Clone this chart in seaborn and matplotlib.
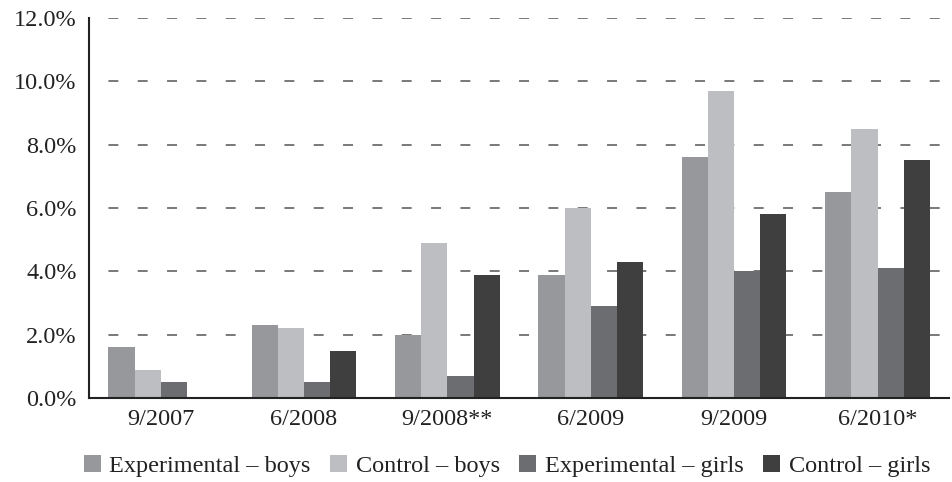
import pandas as pd
import matplotlib.pyplot as plt
import seaborn as sns
from matplotlib.ticker import FuncFormatter, FixedLocator

# Data (percent)
periods = ["9/2007", "6/2008", "9/2008**", "6/2009", "9/2009", "6/2010*"]
groups = ["Experimental – boys", "Control – boys", "Experimental – girls", "Control – girls"]
exp_boys = [1.6, 2.3, 2.0, 3.9, 7.6, 6.5]
ctrl_boys = [0.9, 2.2, 4.9, 6.0, 9.7, 8.5]
exp_girls = [0.5, 0.5, 0.7, 2.9, 4.0, 4.1]
ctrl_girls = [0.0, 1.5, 3.9, 4.3, 5.8, 7.5]
colours = ["#97989c", "#bdbec2", "#6c6d71", "#3f3f3f"]

rows = []
for g, vals in zip(groups, [exp_boys, ctrl_boys, exp_girls, ctrl_girls]):
    for p, v in zip(periods, vals):
        rows.append({"period": p, "group": g, "value": v})
df = pd.DataFrame(rows)

sns.set_style("white")
plt.rcParams["font.family"] = ["Liberation Serif", "DejaVu Serif"]

fig = plt.figure(figsize=(9.53, 4.82), dpi=100)
ax = fig.add_axes([0.0934, 0.174, 0.9026, 0.789])

sns.barplot(data=df, x="period", y="value", hue="group", order=periods,
            hue_order=groups, palette=colours, width=0.73, saturation=1,
            linewidth=0, ax=ax, legend=True)

ax.set_ylim(0, 12)
ax.set_xlim(-0.5, 5.5)
ax.set_yticks([0, 2, 4, 6, 8, 10, 12])
ax.yaxis.set_major_formatter(FuncFormatter(lambda v, _: f"{v:.1f}%"))
# dashes: ~10px on, ~19px off, starting with a gap at the axis
ax.yaxis.grid(True, linestyle=(6.5, (6.5, 12.7)), color="#555555", linewidth=1.1)
ax.set_axisbelow(True)

ax.set_xlabel("")
ax.set_ylabel("")
for s in ["top", "right"]:
    ax.spines[s].set_visible(False)
for s in ["left", "bottom"]:
    ax.spines[s].set_color("#222222")
    ax.spines[s].set_linewidth(1.5)

ax.tick_params(axis="x", which="major", length=0, labelsize=17.5, pad=8, colors="#222222")
ax.xaxis.set_minor_locator(FixedLocator([i - 0.5 for i in range(7)]))
ax.tick_params(axis="x", which="minor", length=7, width=1.3, direction="out", color="#222222")
ax.tick_params(axis="y", length=6, width=1.3, direction="out", labelsize=17.5, pad=3, colors="#222222")

handles, labels = ax.get_legend_handles_labels()
ax.get_legend().remove()
fig.legend(handles, labels, loc="lower center", bbox_to_anchor=(0.532, -0.035), ncol=4,
           frameon=False, fontsize=17.5, handlelength=0.7, handleheight=0.7,
           columnspacing=0.8, handletextpad=0.35, labelcolor="#222222")

fig.savefig("out.png", dpi=100)
